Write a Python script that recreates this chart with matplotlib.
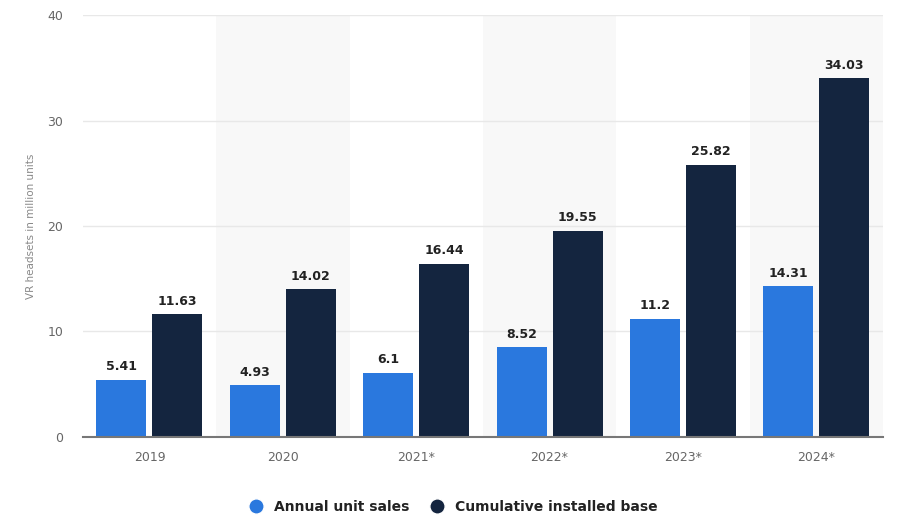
import numpy as np
import matplotlib.pyplot as plt
from matplotlib.lines import Line2D

# Data
years = ['2019', '2020', '2021*', '2022*', '2023*', '2024*']
annual_sales = [5.41, 4.93, 6.1, 8.52, 11.2, 14.31]
installed_base = [11.63, 14.02, 16.44, 19.55, 25.82, 34.03]

blue = '#2a78de'
navy = '#14253f'

fig = plt.figure(figsize=(9, 5.25), dpi=100)
ax = fig.add_axes([0.092, 0.168, 0.889, 0.803])

x = np.arange(len(years))
w = 0.375
off = 0.21

# Alternating background bands
for i in range(len(years)):
    if i % 2 == 1:
        ax.axvspan(i - 0.5, i + 0.5, color='#f8f8f8', zorder=0, lw=0)

b1 = ax.bar(x - off, annual_sales, w, color=blue, zorder=3)
b2 = ax.bar(x + off, installed_base, w, color=navy, zorder=3)

for bars, vals in ((b1, annual_sales), (b2, installed_base)):
    for rect, v in zip(bars, vals):
        ax.text(rect.get_x() + rect.get_width() / 2, v + 0.6, f'{v:g}',
                ha='center', va='bottom', fontsize=9, fontweight='bold',
                color='#222222', zorder=4)

ax.set_xlim(-0.5, len(years) - 0.5)
ax.set_ylim(0, 40)
ax.set_yticks([0, 10, 20, 30, 40])
ax.set_xticks(x)
ax.set_xticklabels(years)
ax.tick_params(axis='both', length=0, colors='#666666', labelsize=9)
ax.tick_params(axis='x', pad=10)
ax.tick_params(axis='y', pad=14)
ax.grid(axis='y', color='#e8e8e8', lw=1, zorder=1)
ax.set_axisbelow(True)

for s in ('top', 'right', 'left'):
    ax.spines[s].set_visible(False)
ax.spines['bottom'].set_color('#777777')
ax.spines['bottom'].set_linewidth(1.5)
ax.spines['bottom'].set_zorder(5)

ax.set_ylabel('VR headsets in million units', fontsize=7.5, color='#888888', labelpad=8)

handles = [
    Line2D([0], [0], marker='o', color='w', markerfacecolor=blue, markersize=11, label='Annual unit sales'),
    Line2D([0], [0], marker='o', color='w', markerfacecolor=navy, markersize=11, label='Cumulative installed base'),
]
leg = fig.legend(handles=handles, loc='center', bbox_to_anchor=(0.5, 0.035), ncol=2,
                 frameon=False, handletextpad=0.3, columnspacing=1.0,
                 prop={'size': 10, 'weight': 'bold'})
for t in leg.get_texts():
    t.set_color('#222222')

fig.savefig('out.png', dpi=100)
